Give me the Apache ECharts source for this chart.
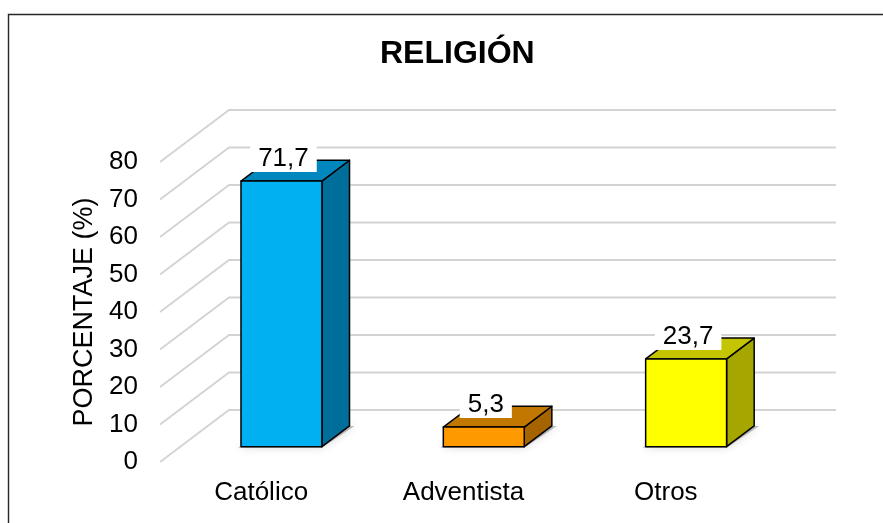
<!DOCTYPE html>
<html>
<head>
<meta charset="utf-8">
<script src="https://cdn.jsdelivr.net/npm/echarts@6/dist/echarts.min.js"></script>
<style>
  html, body { margin: 0; padding: 0; background: #fff; }
  #chart { width: 883px; height: 523px; }
</style>
</head>
<body>
<div id="chart"></div>
<script>
const categories = ['Católico', 'Adventista', 'Otros'];
const values = [71.7, 5.3, 23.7];
const yTicks = [0, 10, 20, 30, 40, 50, 60, 70, 80];

const frontColors = ['#00B0F0', '#FF9900', '#FFFF00'];
const topColors = ['#0087BE', '#C27700', '#C4C400'];
const sideColors = ['#006E9A', '#A56400', '#A6A600'];

const FONT = '"Liberation Sans", Arial, sans-serif';
// oblique depth of the floor (px), used for the fake 3D look
const DEPTH = [69, -52];

const chart = echarts.init(document.getElementById('chart'));

const renderGrid = (params, api) => {
  const cs = params.coordSys;
  const y = api.coord([0, api.value(1)])[1];
  return {
    type: 'polyline',
    shape: {
      points: [
        [cs.x, y],
        [cs.x + DEPTH[0], y + DEPTH[1]],
        [cs.x + cs.width + DEPTH[0], y + DEPTH[1]],
      ],
    },
    style: { stroke: '#D3D3D3', lineWidth: 1.8, fill: null },
  };
};

const renderBar = (params, api) => {
  const i = api.value(0);
  const v = api.value(1);
  const base = api.coord([i, 0]);
  const top = api.coord([i, v]);
  const band = api.size([1, 0])[0];
  const w = band * 0.4;
  const ox = DEPTH[0] * 0.294, oy = DEPTH[1] * 0.294;
  const dx = DEPTH[0] * 0.40, dy = DEPTH[1] * 0.40;
  const L = base[0] - w / 2 + ox;
  const R = L + w;
  const B = base[1] + oy;
  // bars sit a bit deeper than the front plane, so they read slightly shorter
  const T = B - (base[1] - top[1]) * 0.988;
  const edge = { stroke: '#000', lineWidth: 1.5, lineJoin: 'round' };
  return {
    type: 'group',
    children: [
      {
        type: 'polygon',
        shape: { points: [[L - 3, B + 1], [R, B + 1], [R + dx + 5, B + dy], [L + dx, B + dy]] },
        style: { fill: 'rgba(0,0,0,0.25)', shadowBlur: 8, shadowColor: 'rgba(0,0,0,0.6)' },
      },
      {
        type: 'polygon',
        shape: { points: [[R, T], [R + dx, T + dy], [R + dx, B + dy], [R, B]] },
        style: Object.assign({ fill: sideColors[i] }, edge),
      },
      {
        type: 'polygon',
        shape: { points: [[L, T], [R, T], [R + dx, T + dy], [L + dx, T + dy]] },
        style: Object.assign({ fill: topColors[i] }, edge),
      },
      {
        type: 'rect',
        shape: { x: L, y: T, width: w, height: B - T },
        style: Object.assign({ fill: frontColors[i] }, edge),
      },
      {
        type: 'text',
        style: {
          text: v.toFixed(1).replace('.', ','),
          x: L + w / 2 + 2,
          y: T - 22,
          align: 'center',
          verticalAlign: 'middle',
          fill: '#000',
          font: '26px ' + FONT,
          backgroundColor: '#fff',
          padding: [0, 8],
        },
      },
    ],
  };
};

const option = {
  animation: false,
  title: {
    text: 'RELIGIÓN',
    left: 375,
    top: 33,
    textStyle: { fontSize: 32, fontWeight: 'bold', color: '#000', fontFamily: FONT },
  },
  graphic: [{
    type: 'rect',
    shape: { x: 8.5, y: 14.5, width: 1000, height: 1000 },
    style: { fill: null, stroke: '#262626', lineWidth: 1.4 },
  }],
  grid: { left: 160, right: 116, top: 162, bottom: 61 },
  xAxis: {
    type: 'category',
    data: categories,
    axisLine: { show: false },
    axisTick: { show: false },
    axisLabel: { margin: 18, fontSize: 26, color: '#000', fontFamily: FONT },
  },
  yAxis: {
    type: 'value',
    min: 0,
    max: 80,
    interval: 10,
    axisLine: { show: false },
    axisTick: { show: false },
    splitLine: { show: false },
    axisLabel: { margin: 22, fontSize: 26, color: '#000', fontFamily: FONT },
    name: 'PORCENTAJE (%)',
    nameLocation: 'middle',
    nameGap: 60,
    nameRotate: 90,
    nameTextStyle: { fontSize: 27, color: '#000', fontFamily: FONT },
  },
  series: [
    {
      type: 'custom',
      silent: true,
      z: 1,
      renderItem: renderGrid,
      encode: { x: 0, y: 1 },
      data: yTicks.map(v => [0, v]),
    },
    {
      type: 'custom',
      z: 2,
      renderItem: renderBar,
      encode: { x: 0, y: 1 },
      data: values.map((v, i) => [i, v]),
    },
  ],
};

chart.setOption(option);
</script>
</body>
</html>
